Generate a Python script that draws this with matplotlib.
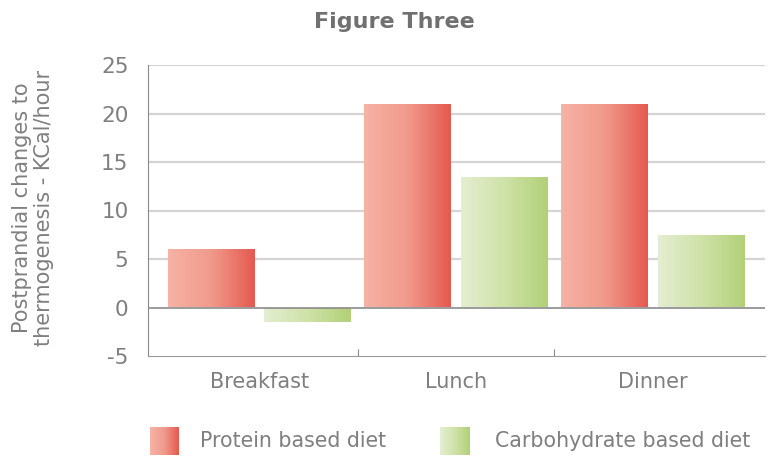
import numpy as np
import matplotlib
matplotlib.use("Agg")
import matplotlib.pyplot as plt
from matplotlib.colors import LinearSegmentedColormap

categories = ["Breakfast", "Lunch", "Dinner"]
protein = [6.0, 21.0, 21.0]
carb = [-1.5, 13.5, 7.5]
series_names = ["Protein based diet", "Carbohydrate based diet"]
yticks = [-5, 0, 5, 10, 15, 20, 25]

plt.rcParams['font.family'] = ['DejaVu Sans']
gray = '#7f7f7f'

fig = plt.figure(figsize=(7.7, 4.57), dpi=100)
ax = fig.add_axes([148/770, 1-356/457, 617/770, 291/457])

x = np.arange(len(categories))
w = 0.44
off = 0.245
red_cmap = LinearSegmentedColormap.from_list('r', ['#f6b3a6', '#f09a8c', '#e5594f'])
green_cmap = LinearSegmentedColormap.from_list('g', ['#e4eed2', '#cfe2a8', '#b2d078'])

def grad_bars(xs, vals, cmap):
    bars = ax.bar(xs, vals, width=w, color='none', edgecolor='none', zorder=3)
    grad = np.linspace(0, 1, 256).reshape(1, -1)
    for b in bars:
        x0, y0 = b.get_x(), b.get_y()
        bw, bh = b.get_width(), b.get_height()
        ylo, yhi = min(y0, y0 + bh), max(y0, y0 + bh)
        im = ax.imshow(grad, cmap=cmap, extent=[x0, x0 + bw, ylo, yhi],
                       aspect='auto', zorder=3, interpolation='bicubic')
        im.set_clip_path(b)
    return bars

grad_bars(x - off, protein, red_cmap)
grad_bars(x + off, carb, green_cmap)

ax.set_xlim(-0.565, 2.57)
ax.set_ylim(-5, 25)
ax.set_yticks(yticks)
ax.set_yticklabels([str(t) for t in yticks], fontsize=15.5, color=gray)
for t in yticks[2:]:
    ax.axhline(t, color='#d4d4d4', lw=1.6, zorder=1)
ax.axhline(0, color='#8a8a8a', lw=1.2, zorder=5)

ax.set_xticks([0.5, 1.5])
ax.set_xticklabels([])
ax.tick_params(axis='x', length=5, color='#8a8a8a', direction='in')
ax.tick_params(axis='y', length=0, pad=14)
for i, c in enumerate(categories):
    ax.text(x[i], -7.7, c, ha='center', va='center', fontsize=15, color=gray)

for s in ['top', 'right']:
    ax.spines[s].set_visible(False)
ax.spines['left'].set_color('#8a8a8a')
ax.spines['bottom'].set_color('#9a9a9a')

fig.text(33/770, 1-208/457, "Postprandial changes to\nthermogenesis - KCal/hour",
         rotation=90, ha='center', va='center', fontsize=15, color=gray, linespacing=1.15)
fig.text(394/770, 1-22/457, "Figure Three", ha='center', va='center',
         fontsize=16, fontweight='bold', color='#707070')

# legend
lax = fig.add_axes([0, 0, 1, 1], zorder=-1)
lax.set_axis_off()
gradimg = np.linspace(0, 1, 64).reshape(1, -1)
lax.imshow(gradimg, cmap=red_cmap, extent=[150, 179, 455, 427], aspect='auto')
lax.imshow(gradimg, cmap=green_cmap, extent=[440, 470, 455, 427], aspect='auto')
lax.set_xlim(0, 770); lax.set_ylim(457, 0)
fig.text(200/770, 1-441/457, series_names[0], ha='left', va='center', fontsize=14.8, color=gray)
fig.text(495/770, 1-441/457, series_names[1], ha='left', va='center', fontsize=14.8, color=gray)

fig.savefig("out.png", dpi=100)
